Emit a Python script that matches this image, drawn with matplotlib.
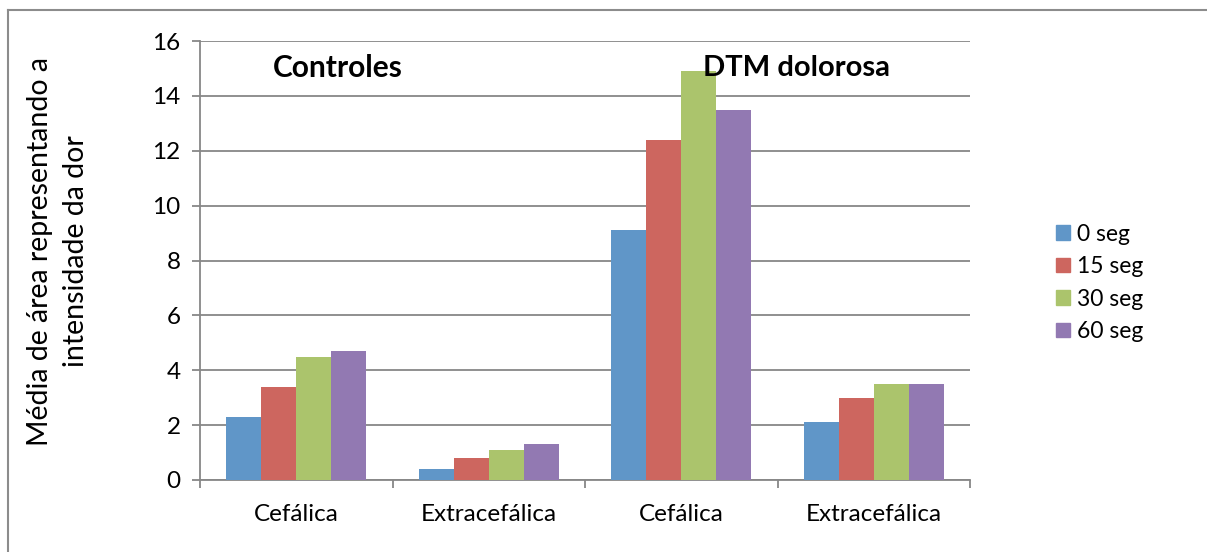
import matplotlib.pyplot as plt
import numpy as np
from matplotlib.lines import Line2D

plt.rcParams['font.family'] = ['Lato', 'DejaVu Sans']

# mean pain-area per site, Controles then DTM dolorosa
categories = ['Cefálica', 'Extracefálica', 'Cefálica', 'Extracefálica']
series = ['0 seg', '15 seg', '30 seg', '60 seg']
seg0 = [2.3, 0.4, 9.1, 2.1]
seg15 = [3.4, 0.8, 12.4, 3.0]
seg30 = [4.5, 1.1, 14.9, 3.5]
seg60 = [4.7, 1.3, 13.5, 3.5]
colors = ['#6096c8', '#cd665f', '#abc46c', '#9279b2']

W, H = 1207, 552
fig = plt.figure(figsize=(W / 100, H / 100), dpi=100)
ax = fig.add_axes([200 / W, 1 - 480 / H, 770 / W, 439 / H])

x = np.arange(len(categories))
bw = 0.182
for i, (vals, lab) in enumerate(zip([seg0, seg15, seg30, seg60], series)):
    ax.bar(x + (i - 1.5) * bw, vals, bw, color=colors[i], label=lab,
           edgecolor='none', zorder=3)

grid_c = '#878787'
ax.set_xlim(-0.5, 3.5)
ax.set_ylim(0, 16)
ax.set_yticks(range(0, 17, 2))
ax.yaxis.grid(True, color=grid_c, linewidth=1.3, zorder=0)
for s in ['top', 'right']:
    ax.spines[s].set_visible(False)
for s in ['left', 'bottom']:
    ax.spines[s].set_color(grid_c)
    ax.spines[s].set_linewidth(1.3)

# category labels between boundary ticks
ax.set_xticks(np.arange(-0.5, 4, 1.0))
ax.set_xticklabels([])
ax.set_xticks(x, minor=True)
ax.set_xticklabels(categories, minor=True, fontsize=17.5)
ax.tick_params(axis='x', which='minor', length=0, pad=17)
ax.tick_params(axis='x', which='major', length=6, color=grid_c, width=1.3)
ax.tick_params(axis='y', length=6, color=grid_c, width=1.3, labelsize=17.5, pad=8)

ax.text(0.179, 0.938, 'Controles', transform=ax.transAxes, fontsize=21.5,
        fontweight='bold', ha='center', va='center')
ax.text(0.775, 0.938, 'DTM dolorosa', transform=ax.transAxes, fontsize=21,
        fontweight='bold', ha='center', va='center')

fig.text(58 / W, 1 - 251 / H, 'Média de área representando a\nintensidade da dor',
         rotation=90, ha='center', va='center', fontsize=20.5, linespacing=1.45,
         multialignment='center')

handles = [plt.Rectangle((0, 0), 1, 1, color=c) for c in colors]
fig.legend(handles, series, loc='center left', bbox_to_anchor=(1047 / W, 1 - 283 / H),
           frameon=False, fontsize=16.5, handlelength=0.6, handleheight=0.6,
           handletextpad=0.3, labelspacing=0.5, borderaxespad=0)

# outer chart frame (top and left edges)
fig.add_artist(Line2D([8 / W, 1], [1 - 10 / H, 1 - 10 / H], color='#8c8c8c', lw=1.5))
fig.add_artist(Line2D([8 / W, 8 / W], [0, 1 - 10 / H], color='#8c8c8c', lw=1.5))

fig.savefig('out.png', dpi=100)
